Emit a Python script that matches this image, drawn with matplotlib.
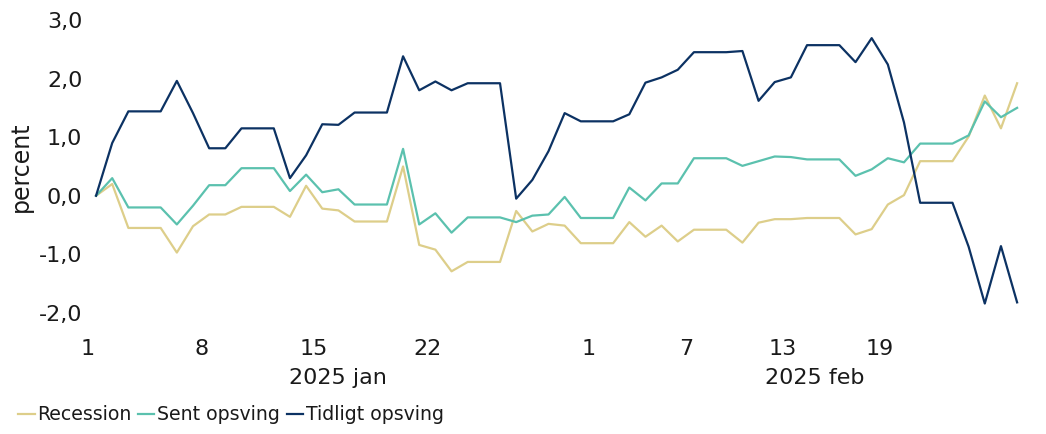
import matplotlib
matplotlib.use("Agg")
import matplotlib.pyplot as plt
import matplotlib.transforms as mtransforms
import pandas as pd

# daglige værdier fra 1. jan 2025 (weekend = fredagens værdi)
start_date = "2025-01-01"
recession = [0.00, 0.20, -0.55, -0.55, -0.55, -0.97, -0.52, -0.32, -0.32, -0.19,
             -0.19, -0.19, -0.36, 0.17, -0.22, -0.25, -0.44, -0.44, -0.44, 0.50,
             -0.84, -0.92, -1.29, -1.13, -1.13, -1.13, -0.26, -0.61, -0.48, -0.51,
             -0.81, -0.81, -0.81, -0.45, -0.70, -0.51, -0.78, -0.58, -0.58, -0.58,
             -0.80, -0.46, -0.40, -0.40, -0.38, -0.38, -0.38, -0.66, -0.57, -0.15,
             0.01, 0.59, 0.59, 0.59, 1.01, 1.71, 1.15, 1.92]
sent_opsving = [0.00, 0.30, -0.20, -0.20, -0.20, -0.49, -0.17, 0.18, 0.18, 0.47,
                0.47, 0.47, 0.08, 0.36, 0.06, 0.11, -0.15, -0.15, -0.15, 0.80,
                -0.49, -0.30, -0.63, -0.37, -0.37, -0.37, -0.45, -0.34, -0.32, -0.02,
                -0.38, -0.38, -0.38, 0.14, -0.08, 0.21, 0.21, 0.64, 0.64, 0.64,
                0.51, 0.59, 0.67, 0.66, 0.62, 0.62, 0.62, 0.34, 0.45, 0.64,
                0.57, 0.89, 0.89, 0.89, 1.03, 1.61, 1.34, 1.50]
tidligt_opsving = [0.00, 0.90, 1.44, 1.44, 1.44, 1.96, 1.41, 0.81, 0.81, 1.15,
                   1.15, 1.15, 0.30, 0.69, 1.22, 1.21, 1.42, 1.42, 1.42, 2.38,
                   1.80, 1.95, 1.80, 1.92, 1.92, 1.92, -0.05, 0.27, 0.76, 1.41,
                   1.27, 1.27, 1.27, 1.39, 1.93, 2.02, 2.15, 2.45, 2.45, 2.45,
                   2.47, 1.62, 1.94, 2.02, 2.57, 2.57, 2.57, 2.28, 2.69, 2.24,
                   1.25, -0.12, -0.12, -0.12, -0.87, -1.84, -0.86, -1.82]

tick_dates = ["2025-01-01", "2025-01-08", "2025-01-15", "2025-01-22",
              "2025-02-01", "2025-02-07", "2025-02-13", "2025-02-19"]
months = [("2025-01-01", "2025-01-31", "2025 jan"),
          ("2025-02-01", "2025-02-28", "2025 feb")]
y_ticks = [-2, -1, 0, 1, 2, 3]

series = [("Recession", recession, "#DDCE8A"),
          ("Sent opsving", sent_opsving, "#5BC1AE"),
          ("Tidligt opsving", tidligt_opsving, "#0C3263")]

plt.rcParams["font.family"] = ["DejaVu Sans"]
txt_col = "#1a1a1a"

dates = pd.date_range(start_date, periods=len(recession))
half = pd.Timedelta(hours=12)

fig = plt.figure(figsize=(10.46, 4.34), dpi=100)
ax = fig.add_axes([0.0841, 0.279, 0.896, 0.675])

for name, vals, col in series:
    ax.plot(dates, vals, color=col, lw=1.6, label=name)

ax.set_ylim(-2, 3)
ax.set_xlim(dates[0] - half, dates[-1] + half)
ax.set_yticks(y_ticks)
ax.set_yticklabels([f"{v:.1f}".replace(".", ",") for v in y_ticks])
tk = [pd.Timestamp(d) - half for d in tick_dates]
ax.set_xticks(tk)
ax.set_xticklabels([str(pd.Timestamp(d).day) for d in tick_dates])
ax.tick_params(length=0, labelsize=16, colors=txt_col)
ax.tick_params(axis="x", pad=19)
ax.tick_params(axis="y", pad=4)
for s in ax.spines.values():
    s.set_visible(False)
ax.set_ylabel("percent", fontsize=17, color=txt_col, labelpad=4)

trans = mtransforms.blended_transform_factory(ax.transData, fig.transFigure)
for a, b, lab in months:
    mid = pd.Timestamp(a) - half + (pd.Timestamp(b) - pd.Timestamp(a) + 2 * half) / 2
    ax.text(mid, 0.128, lab, transform=trans, ha="center", va="center",
            fontsize=16, color=txt_col)

fig.legend(loc="lower left", bbox_to_anchor=(0.005, -0.008), ncol=3, frameon=False,
           fontsize=13.6, handlelength=0.85, handletextpad=0.15, columnspacing=0.35,
           borderaxespad=0.3, labelcolor=txt_col)

fig.savefig("out.png", dpi=100)
